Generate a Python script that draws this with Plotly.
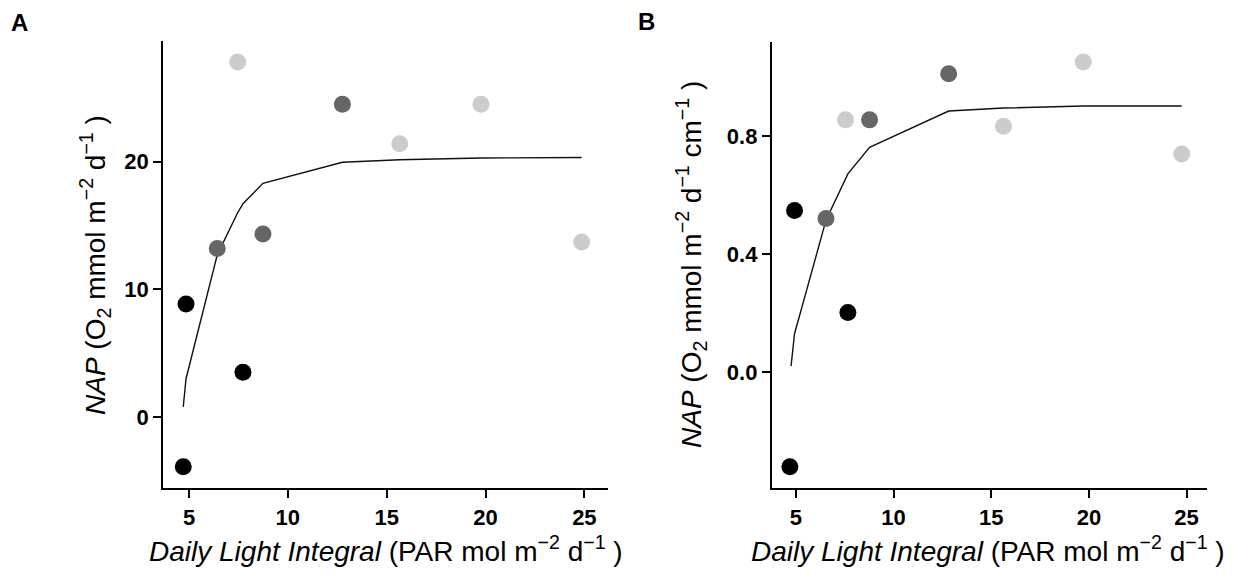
import plotly.graph_objects as go

W, H = 1250, 579

# ---------------- Data ----------------
# Panel A: NAP (O2 mmol m-2 d-1)
a_black_x = [4.71, 4.85, 7.73]
a_black_y = [-3.9, 8.85, 3.5]
a_dark_x = [6.43, 8.74, 12.76]
a_dark_y = [13.2, 14.33, 24.5]
a_light_x = [7.46, 15.66, 19.77, 24.86]
a_light_y = [27.8, 21.4, 24.5, 13.7]
a_fit_x = [4.71, 4.85, 6.43, 7.46, 7.73, 8.74, 12.76, 15.66, 19.77, 24.86]
a_fit_y = [0.8, 3.0, 12.7, 16.0, 16.7, 18.3, 19.95, 20.15, 20.28, 20.32]

# Panel B: NAP (O2 mmol m-2 d-1 cm-1)
b_black_x = [4.69, 4.93, 7.66]
b_black_y = [-0.321, 0.548, 0.202]
b_dark_x = [6.54, 8.77, 12.82]
b_dark_y = [0.521, 0.855, 1.011]
b_light_x = [7.54, 15.63, 19.71, 24.75]
b_light_y = [0.855, 0.833, 1.051, 0.739]
b_fit_x = [4.75, 4.93, 6.54, 7.54, 7.66, 8.77, 12.82, 15.63, 19.71, 24.75]
b_fit_y = [0.02, 0.13, 0.515, 0.655, 0.672, 0.762, 0.885, 0.895, 0.902, 0.902]

x_ticks = [5, 10, 15, 20, 25]
a_y_ticks = [0, 10, 20]
b_y_ticks = [0.0, 0.4, 0.8]

colors = {"black": "#000000", "dark": "#666666", "light": "#cccccc"}

# ---------------- Figure ----------------
fig = go.Figure()

def add_panel(xa, ya, bx, by, dx, dy, lx, ly, fx, fy):
    fig.add_trace(go.Scatter(x=fx, y=fy, mode="lines", line=dict(color="#111111", width=1.4),
                             xaxis=xa, yaxis=ya, showlegend=False, hoverinfo="skip"))
    for xs, ys, c in [(lx, ly, colors["light"]), (dx, dy, colors["dark"]), (bx, by, colors["black"])]:
        fig.add_trace(go.Scatter(x=xs, y=ys, mode="markers",
                                 marker=dict(color=c, size=17, line=dict(width=0)),
                                 xaxis=xa, yaxis=ya, showlegend=False))

add_panel("x", "y", a_black_x, a_black_y, a_dark_x, a_dark_y, a_light_x, a_light_y, a_fit_x, a_fit_y)
add_panel("x2", "y2", b_black_x, b_black_y, b_dark_x, b_dark_y, b_light_x, b_light_y, b_fit_x, b_fit_y)

def px_x(p):
    return p / W

def px_y(p):
    return (H - p) / H

tickfont = dict(family="Liberation Sans, Arial, sans-serif", size=22, color="#000000", weight="bold")
ax_common = dict(showline=True, linecolor="#000000", linewidth=1.8, showgrid=False, zeroline=False,
                 ticks="outside", ticklen=8, tickwidth=1.5, tickcolor="#000000", tickfont=tickfont)

fig.update_layout(
    width=W, height=H,
    margin=dict(l=0, r=0, t=0, b=0),
    paper_bgcolor="white", plot_bgcolor="white",
    xaxis=dict(domain=[px_x(163), px_x(607.7)], range=[3.685, 26.18], anchor="y",
               tickvals=x_ticks, **ax_common),
    yaxis=dict(domain=[px_y(488.3), px_y(40.7)], range=[-5.58, 29.47], anchor="x",
               tickvals=a_y_ticks, **ax_common),
    xaxis2=dict(domain=[px_x(771.7), px_x(1207.3)], range=[3.76, 26.06], anchor="y2",
                tickvals=x_ticks, **ax_common),
    yaxis2=dict(domain=[px_y(488.3), px_y(41.7)], range=[-0.394, 1.12], anchor="x2",
                tickvals=b_y_ticks, tickformat=".1f", **ax_common),
)

title_font = dict(family="Liberation Sans, Arial, sans-serif", size=28, color="#000000")
label_font = dict(family="Liberation Sans, Arial, sans-serif", size=24, color="#000000")
xtitle = "<i>Daily Light Integral</i> (PAR mol m<sup>−2</sup> d<sup>−1</sup> )"
annotations = [
    dict(text="<b>A</b>", x=px_x(9), y=px_y(23), xref="paper", yref="paper", xanchor="left", yanchor="middle",
         showarrow=False, font=label_font),
    dict(text="<b>B</b>", x=px_x(636), y=px_y(21), xref="paper", yref="paper", xanchor="left", yanchor="middle",
         showarrow=False, font=label_font),
    dict(text=xtitle, x=px_x(386), y=px_y(549), xref="paper", yref="paper", xanchor="center", yanchor="middle",
         showarrow=False, font=title_font),
    dict(text=xtitle, x=px_x(988), y=px_y(549), xref="paper", yref="paper", xanchor="center", yanchor="middle",
         showarrow=False, font=title_font),
    dict(text="<i>NAP</i> (O<sub>2</sub> mmol m<sup>−2</sup> d<sup>−1</sup> )", x=px_x(95), y=px_y(265),
         xref="paper", yref="paper", xanchor="center", yanchor="middle", textangle=-90,
         showarrow=False, font=title_font),
    dict(text="<i>NAP</i> (O<sub>2</sub> mmol m<sup>−2</sup> d<sup>−1</sup> cm<sup>−1</sup> )", x=px_x(691), y=px_y(265),
         xref="paper", yref="paper", xanchor="center", yanchor="middle", textangle=-90,
         showarrow=False, font=title_font),
]
fig.update_layout(annotations=annotations)

fig.write_html("out.html", config={"displayModeBar": False},
               post_script="document.body.style.margin='0px';document.body.style.padding='0px';")
